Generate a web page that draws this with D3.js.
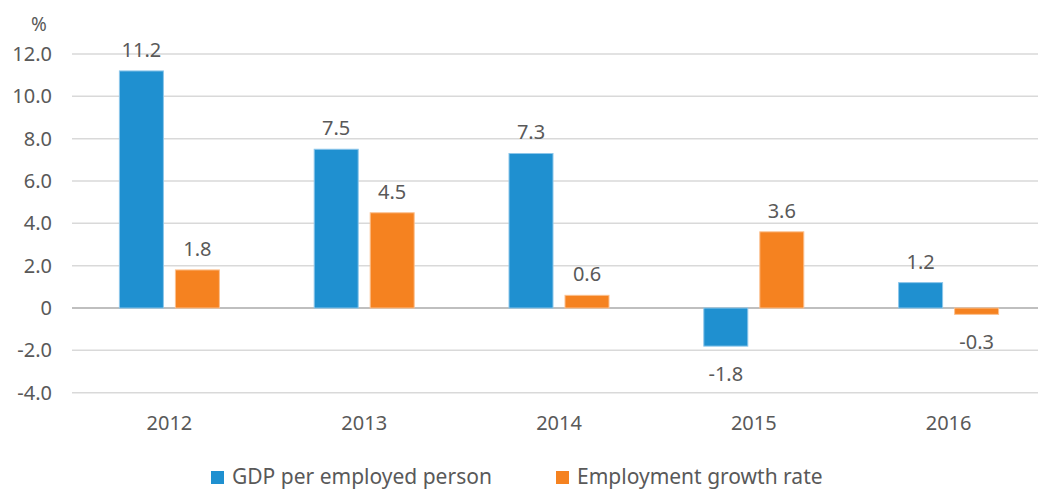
<!DOCTYPE html>
<html>
<head>
<meta charset="utf-8">
<script src="https://cdn.jsdelivr.net/npm/d3@7"></script>
<style>
  html, body { margin: 0; padding: 0; background: #fff; }
  svg text { font-family: "Noto Sans", "Open Sans", sans-serif; fill: #595959; }
</style>
</head>
<body>
<svg id="chart" width="1038" height="489"></svg>
<script>
// Annual figures, in percent
const years = ["2012", "2013", "2014", "2015", "2016"];
const gdpPerEmployed = [11.2, 7.5, 7.3, -1.8, 1.2];
const employmentGrowth = [1.8, 4.5, 0.6, 3.6, -0.3];
const seriesNames = ["GDP per employed person", "Employment growth rate"];
const seriesColors = ["#1f90d0", "#f58220"];
const yTicks = [-4, -2, 0, 2, 4, 6, 8, 10, 12];

(function draw() {
  const svg = d3.select("#chart");
  const plot = { left: 72, right: 1046, top: 54, bottom: 392.7 };
  const fmt = v => d3.format(".1f")(v).replace("\u2212", "-");

  const x = d3.scaleBand().domain(years).range([plot.left, plot.right]).padding(0);
  const y = d3.scaleLinear().domain([-4, 12]).range([plot.bottom, plot.top]);
  const inner = d3.scaleBand().domain([0, 1]).range([-50, 50]).paddingInner(12 / 56);

  // Horizontal gridlines
  svg.append("g").selectAll("line").data(yTicks).join("line")
    .attr("x1", plot.left).attr("x2", plot.right)
    .attr("y1", d => y(d)).attr("y2", d => y(d))
    .attr("stroke", d => d === 0 ? "#bfbfbf" : "#d9d9d9")
    .attr("stroke-width", d => d === 0 ? 2 : 1.5);

  // Y axis labels
  const yAxis = d3.axisLeft(y).tickValues(yTicks)
    .tickFormat(d => d === 0 ? "0" : fmt(d))
    .tickSize(0).tickPadding(0);
  const yg = svg.append("g").attr("transform", "translate(52,0)").call(yAxis);
  yg.select(".domain").remove();
  yg.selectAll("text").attr("font-size", 20).attr("fill", "#595959")
    .style("font-family", "'Noto Sans', sans-serif");

  svg.append("text").attr("x", 39).attr("y", 31).attr("text-anchor", "middle")
    .attr("font-size", 19).text("%");

  // X axis labels
  const xAxis = d3.axisBottom(x).tickSize(0).tickPadding(0);
  const xg = svg.append("g").attr("transform", "translate(0,412)").call(xAxis);
  xg.select(".domain").remove();
  xg.selectAll("text").attr("font-size", 20).attr("fill", "#595959")
    .attr("dy", "0.9em")
    .style("font-family", "'Noto Sans', sans-serif");

  // Bars and value labels
  const rows = [];
  years.forEach((yr, i) => {
    [gdpPerEmployed[i], employmentGrowth[i]].forEach((v, s) => rows.push({ yr, v, s }));
  });

  const bx = d => x(d.yr) + x.bandwidth() / 2 + inner(d.s);

  svg.append("g").selectAll("rect").data(rows).join("rect")
    .attr("x", bx)
    .attr("width", inner.bandwidth())
    .attr("y", d => y(Math.max(0, d.v)))
    .attr("height", d => Math.abs(y(d.v) - y(0)))
    .attr("fill", d => seriesColors[d.s])
    .attr("stroke", d => d.s === 0 ? "#8cc6ea" : "#fbc08f")
    .attr("stroke-width", 1);

  svg.append("g").selectAll("text").data(rows).join("text")
    .attr("x", d => bx(d) + inner.bandwidth() / 2)
    .attr("y", d => d.v >= 0 ? y(d.v) - 14 : y(d.v) + 35)
    .attr("text-anchor", "middle")
    .attr("font-size", 20)
    .text(d => fmt(d.v));

  // Legend
  const legendX = [211, 556];
  const lg = svg.append("g").selectAll("g").data(seriesNames).join("g")
    .attr("transform", (d, i) => `translate(${legendX[i]},471)`);
  lg.append("rect").attr("width", 13).attr("height", 13)
    .attr("fill", (d, i) => seriesColors[i]);
  lg.append("text").attr("x", 21).attr("y", 13).attr("font-size", 21).text(d => d);
})();
</script>
</body>
</html>
